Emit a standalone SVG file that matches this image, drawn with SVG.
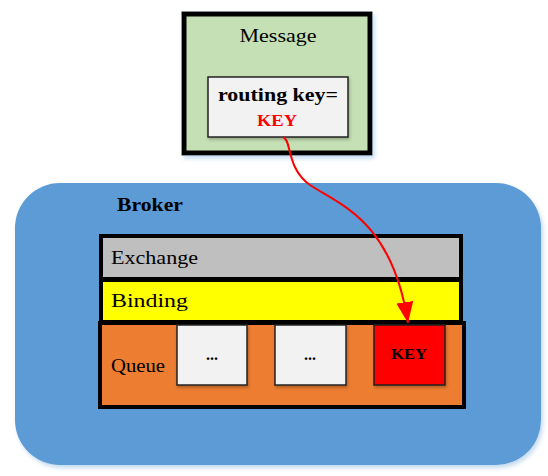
<svg xmlns="http://www.w3.org/2000/svg" width="548" height="476" viewBox="0 0 548 476">
<defs>
<style>
.t{font-family:"Liberation Serif","DejaVu Serif",serif;fill:#000}
.b{font-weight:bold}
.box{stroke:#000}
.cell{fill:#f2f2f2;stroke:#222;stroke-width:1.5}
</style>
<filter id="sh" x="-10%" y="-10%" width="120%" height="130%">
<feDropShadow dx="2" dy="3" stdDeviation="2" flood-color="#9dc3e6" flood-opacity="0.6"/>
</filter>
<filter id="sh2" x="-10%" y="-10%" width="130%" height="130%">
<feDropShadow dx="1" dy="2" stdDeviation="1.5" flood-color="#000" flood-opacity="0.25"/>
</filter>
<marker id="ah" markerWidth="22" markerHeight="18" refX="21" refY="8.5" orient="auto" markerUnits="userSpaceOnUse" viewBox="0 0 22 18">
<path d="M0,0 L21,8.5 L0,17 Z" fill="#f00"/>
</marker>
</defs>
<g id="broker">
<rect x="15" y="183" width="526" height="282" rx="45" ry="45" fill="#5b9bd5" filter="url(#sh)"/>
<text class="t b" x="117" y="211" font-size="19" textLength="66" lengthAdjust="spacingAndGlyphs">Broker</text>
</g>
<g id="message">
<rect x="184" y="14" width="186" height="139" fill="#c5e0b4" class="box" stroke-width="5" filter="url(#sh)"/>
<text class="t" x="278" y="42" font-size="19" text-anchor="middle" textLength="77" lengthAdjust="spacingAndGlyphs">Message</text>
</g>
<g id="routing-key">
<rect x="208" y="77" width="140" height="60" class="cell" filter="url(#sh2)"/>
<text class="t b" x="278" y="101" font-size="19" text-anchor="middle" textLength="120" lengthAdjust="spacingAndGlyphs">routing key=</text>
<text class="t b" x="277" y="126" font-size="16" text-anchor="middle" style="fill:#f00" textLength="40" lengthAdjust="spacingAndGlyphs">KEY</text>
</g>
<g id="exchange">
<rect x="101" y="236" width="360" height="43" fill="#bfbfbf" class="box" stroke-width="4"/>
<text class="t" x="111" y="264" font-size="19" textLength="87" lengthAdjust="spacingAndGlyphs">Exchange</text>
</g>
<g id="binding">
<rect x="101" y="280" width="360" height="42" fill="#ffff00" class="box" stroke-width="4"/>
<text class="t" x="111" y="307" font-size="19" textLength="77" lengthAdjust="spacingAndGlyphs">Binding</text>
</g>
<g id="queue">
<rect x="100" y="323" width="364" height="84" fill="#ed7d31" class="box" stroke-width="4"/>
<text class="t" x="111" y="372" font-size="19" textLength="54" lengthAdjust="spacingAndGlyphs">Queue</text>
</g>
<g id="item1">
<rect x="177" y="325" width="70" height="60" class="cell" filter="url(#sh2)"/>
<text class="t b" x="212" y="360" font-size="16" text-anchor="middle">...</text>
</g>
<g id="item2">
<rect x="275" y="325" width="71" height="60" class="cell" filter="url(#sh2)"/>
<text class="t b" x="310" y="360" font-size="16" text-anchor="middle">...</text>
</g>
<g id="item-key">
<rect x="374" y="325" width="71" height="60" fill="#ff0000" stroke="#222" stroke-width="1.5" filter="url(#sh2)"/>
<text class="t b" x="409" y="359" font-size="14" text-anchor="middle" textLength="36" lengthAdjust="spacingAndGlyphs">KEY</text>
</g>
<g id="connectors">
<path d="M283,137 C292,140 286,168 310,185 C340,205 392,220 408,323" fill="none" stroke="#f00" stroke-width="2" marker-end="url(#ah)"/>
</g>
</svg>
